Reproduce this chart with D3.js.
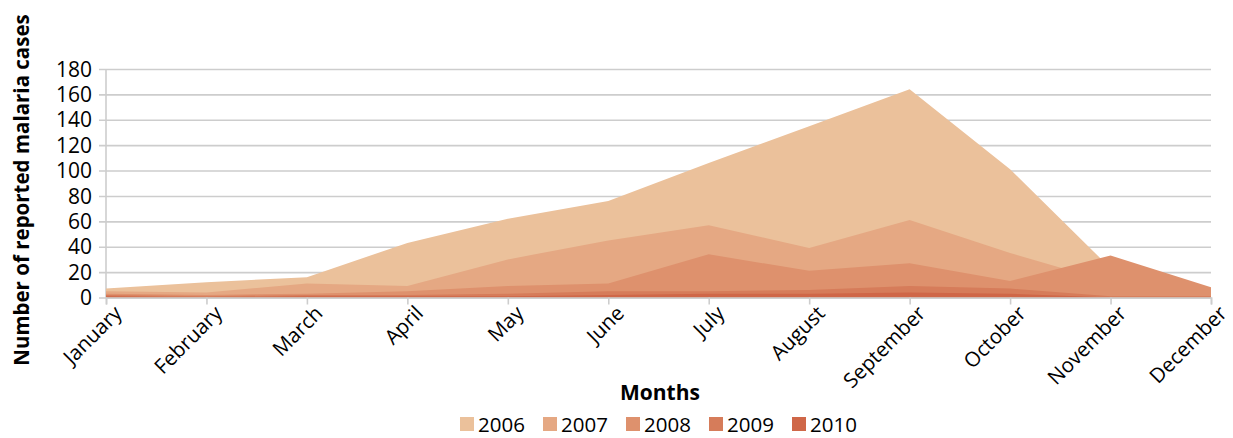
<!DOCTYPE html>
<html>
<head>
<meta charset="utf-8">
<script src="https://cdn.jsdelivr.net/npm/d3@7"></script>
<style>
  html, body { margin: 0; padding: 0; background: #ffffff; }
  svg { display: block; }
  text { font-family: "Open Sans", "Noto Sans", sans-serif; fill: #000; }
</style>
</head>
<body>
<svg id="chart" width="1233" height="438"></svg>
<script>
// Monthly reported malaria cases, one series per year
const months = ["January", "February", "March", "April", "May", "June",
                "July", "August", "September", "October", "November", "December"];
const years = ["2006", "2007", "2008", "2009", "2010"];
const cases2006 = [7, 12, 16, 43, 62, 76, 106, 135, 164, 101, 23, 5];
const cases2007 = [5, 4, 11, 9, 30, 45, 57, 39, 61, 35, 12, 3];
const cases2008 = [3, 2, 3, 5, 9, 11, 34, 21, 27, 13, 33, 8];
const cases2009 = [2, 1, 2, 2, 3, 5, 5, 6, 9, 7, 1, 1];
const cases2010 = [1, 0, 1, 1, 1, 2, 3, 3, 4, 3, 0, 0];
const yTicks = [0, 20, 40, 60, 80, 100, 120, 140, 160, 180];
const colors = ["#ebc19b", "#e5a883", "#de916d", "#d67c5a", "#cf6748"];

const series = [cases2006, cases2007, cases2008, cases2009, cases2010];

const svg = d3.select("#chart");
const plotLeft = 106, plotRight = 1211, plotTop = 69, plotBottom = 297.5;

const x = d3.scalePoint().domain(months).range([plotLeft, plotRight]);
const y = d3.scaleLinear().domain([0, 180]).range([plotBottom, plotTop]);

// horizontal grid with short ticks on the left
const yAxis = svg.append("g")
  .attr("transform", `translate(${plotRight},0)`)
  .call(d3.axisLeft(y).tickValues(yTicks).tickSize(plotRight - plotLeft + 7).tickFormat(""));
yAxis.select(".domain").remove();
yAxis.selectAll(".tick line").attr("stroke", "#cdcdcd").attr("stroke-width", 1.6);

// left vertical axis line
svg.append("line")
  .attr("x1", plotLeft).attr("x2", plotLeft).attr("y1", plotTop).attr("y2", plotBottom)
  .attr("stroke", "#cdcdcd").attr("stroke-width", 1.6);

// y tick labels
svg.append("g").selectAll("text").data(yTicks).join("text")
  .attr("x", 92).attr("y", d => y(d)).attr("dy", "0.36em")
  .attr("text-anchor", "end").attr("font-size", 21)
  .text(d => d);

// overlapping areas, earliest year at the back
const area = d3.area()
  .x((d, i) => x(months[i]))
  .y0(y(0))
  .y1(d => y(d));

svg.append("g").selectAll("path").data(series).join("path")
  .attr("d", d => area(d))
  .attr("fill", (d, i) => colors[i]);

// x axis with downward ticks
const xAxis = svg.append("g")
  .attr("transform", `translate(0,${plotBottom})`)
  .call(d3.axisBottom(x).tickSize(7).tickFormat(""));
xAxis.select(".domain").attr("stroke", "#cdcdcd").attr("stroke-width", 1.6);
xAxis.selectAll(".tick line").attr("stroke", "#cdcdcd").attr("stroke-width", 1.6);

// rotated month labels
svg.append("g").selectAll("text").data(months).join("text")
  .attr("transform", d => `translate(${x(d) + 12},${plotBottom + 12}) rotate(-45)`)
  .attr("text-anchor", "end").attr("dy", "0.35em")
  .attr("font-size", 20.5)
  .text(d => d);

// axis titles
svg.append("text")
  .attr("transform", `translate(22,190) rotate(-90)`)
  .attr("text-anchor", "middle").attr("dy", "0.35em")
  .attr("font-size", 20.5).attr("font-weight", "bold")
  .text("Number of reported malaria cases");

svg.append("text")
  .attr("x", 660).attr("y", 400)
  .attr("text-anchor", "middle")
  .attr("font-size", 21).attr("font-weight", "bold")
  .text("Months");

// legend
const legend = svg.append("g").selectAll("g").data(years).join("g")
  .attr("transform", (d, i) => `translate(${460 + i * 83},417)`);
legend.append("rect")
  .attr("width", 14).attr("height", 14)
  .attr("fill", (d, i) => colors[i]);
legend.append("text")
  .attr("x", 18).attr("y", 14.5)
  .attr("font-size", 20.5)
  .text(d => d);
</script>
</body>
</html>
